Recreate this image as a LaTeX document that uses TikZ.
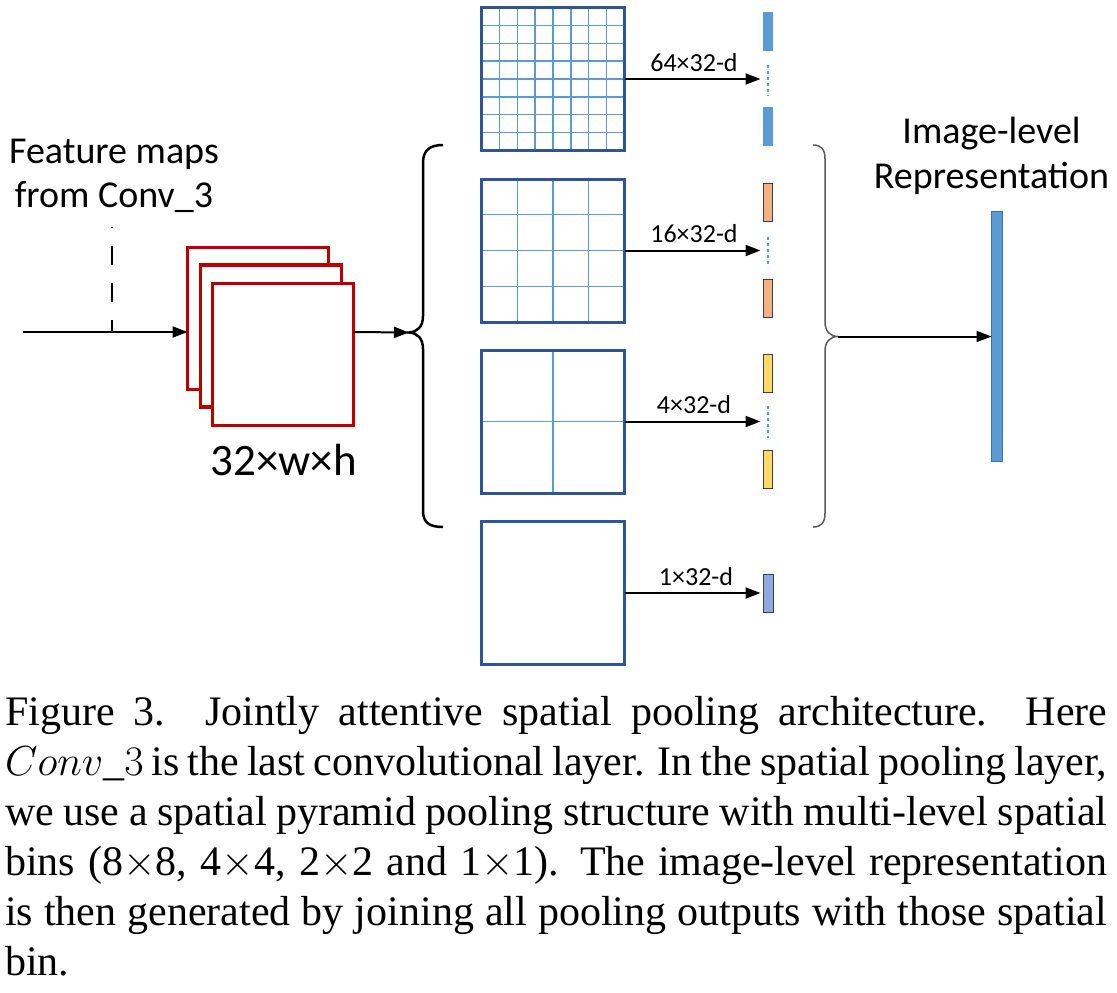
\RequirePackage{fix-cm}
\documentclass[tikz,border=0pt]{standalone}
\usepackage{fontspec}
\setmainfont{Liberation Serif}
\newfontfamily\calib{Carlito}
\usetikzlibrary{arrows.meta,calc}
\definecolor{redbox}{RGB}{192,0,0}
\definecolor{gridborder}{RGB}{47,85,151}
\definecolor{gridline}{RGB}{91,155,213}
\definecolor{barblue}{RGB}{91,155,213}
\definecolor{barorange}{RGB}{244,177,131}
\definecolor{baryellow}{RGB}{255,217,102}
\definecolor{barlav}{RGB}{143,170,220}
\definecolor{bigedge}{RGB}{65,113,156}
\definecolor{lavedge}{RGB}{47,63,110}
\definecolor{bracegray}{RGB}{90,90,90}
\tikzset{
  fmap/.style={draw=redbox, line width=3.2pt, fill=white, minimum width=141pt, minimum height=142pt, inner sep=0pt, outer sep=0pt},
  poolbox/.style={draw=gridborder, line width=3pt, minimum width=143pt, minimum height=143pt, inner sep=0pt, outer sep=0pt},
  gridl/.style={draw=gridline, line width=1.3pt},
  flow/.style={draw=black, line width=2pt, -{Triangle[length=15pt,width=11pt]}},
  barbox/.style={minimum width=9pt, minimum height=38pt, inner sep=0pt, outer sep=0pt},
  bluebar/.style={barbox, fill=barblue, draw=barblue, line width=1pt},
  orangebar/.style={barbox, fill=barorange, draw=black!75, line width=1pt},
  yellowbar/.style={barbox, fill=baryellow, draw=black!75, line width=1pt},
  dotline/.style={draw=barblue, line width=2pt, dash pattern=on 3pt off 3pt},
  lbl/.style={font=\calib\fontsize{26}{30}\selectfont, inner sep=0pt},
  toplbl/.style={font=\calib\fontsize{38}{44}\selectfont, inner sep=0pt, anchor=base},
  bracepath/.style={line width=2.5pt, draw=black},
}
\begin{document}
\begin{tikzpicture}[x=1pt,y=-1pt]
\useasboundingbox (0,0) rectangle (1117,993);

% ---- input and feature maps ----
\node[toplbl] (featlbl) at (114,163) {\parbox[t]{300pt}{\centering Feature maps\\from Conv\_3}};
\coordinate (in) at (23,332);
\coordinate (dtop) at (112,227);

\node[fmap] (f1) at (258,318.5) {};
\node[fmap] (f2) at (271,336) {};
\node[fmap] (f3) at (283,354.5) {};
\node[font=\calib\fontsize{45}{50}\selectfont, inner sep=0pt, anchor=base] (dimlbl) at (283.5,475) {32×w×h};

\draw[line width=2pt, dash pattern=on 19pt off 18pt, dash phase=7pt] (dtop |- in) -- (dtop);
\draw[flow] (in) -- (in -| f1.west);

% ---- left brace ----
\coordinate (lbtip) at (409,332.5);
\draw[bracepath] (443,145) .. controls (430,145) and (423,150) .. (423,163) -- (423,316)
  .. controls (423,327) and (417,332) .. (lbtip)
  .. controls (417,333) and (423,338) .. (423,349) -- (423,511)
  .. controls (423,523) and (430,527) .. (443,527);
\draw[flow] (in -| f3.east) -- (lbtip);

% ---- grids ----
\foreach \i in {1,...,7} {
  \draw[gridl] (481.5+\i*143/8,7.5) -- (481.5+\i*143/8,150.5);
  \draw[gridl] (481.5,7.5+\i*143/8) -- (624.5,7.5+\i*143/8);
}
\foreach \i in {1,...,3} {
  \draw[gridl] (481.5+\i*143/4,179) -- (481.5+\i*143/4,322);
  \draw[gridl] (481.5,179+\i*143/4) -- (624.5,179+\i*143/4);
}
\draw[gridl] (553,350) -- (553,493);
\draw[gridl] (481.5,421.5) -- (624.5,421.5);

\node[poolbox] (g1) at (553,79) {};
\node[poolbox] (g2) at (553,250.5) {};
\node[poolbox] (g3) at (553,421.5) {};
\node[poolbox] (g4) at (553,593) {};

% ---- bars ----
\node[bluebar] (b1a) at (768,31) {};
\node[bluebar] (b1b) at (768,126.5) {};
\node[orangebar] (b2a) at (768,202.5) {};
\node[orangebar] (b2b) at (768,298.5) {};
\node[yellowbar] (b3a) at (768,373) {};
\node[yellowbar] (b3b) at (768,469.5) {};
\node[barbox, minimum width=10pt, fill=barlav, draw=lavedge, line width=1pt] (b4) at (768.5,593) {};

\draw[dotline, shorten <=15pt, shorten >=12pt] (b1a.south) -- (b1b.north);
\draw[dotline, shorten <=15pt, shorten >=13pt] (b2a.south) -- (b2b.north);
\draw[dotline, shorten <=14pt, shorten >=13pt] (b3a.south) -- (b3b.north);

\draw[flow, shorten >=3pt] (g1.east) -- (g1.east -| b1a.west) node[lbl, midway, anchor=base, yshift=8pt] {64×32-d};
\draw[flow, shorten >=3pt] (g2.east) -- (g2.east -| b2a.west) node[lbl, midway, anchor=base, yshift=8pt] {16×32-d};
\draw[flow, shorten >=3pt] (g3.east) -- (g3.east -| b3a.west) node[lbl, midway, anchor=base, yshift=8pt] {4×32-d};
\draw[flow, shorten >=3pt] (g4.east) -- (g4.east -| b4.west) node[lbl, midway, anchor=base, yshift=8pt, xshift=2pt] {1×32-d};

% ---- right brace ----
\coordinate (rbtip) at (838,336.5);
\draw[line width=1.5pt, draw=bracegray] (813,145) .. controls (821,145) and (825,149) .. (825,159) -- (825,322)
  .. controls (825,331) and (830,336.5) .. (rbtip)
  .. controls (830,336.5) and (825,342) .. (825,351) -- (825,513)
  .. controls (825,523) and (821,527) .. (813,527);

\node[barbox, minimum width=11pt, minimum height=250pt, fill=barblue, draw=bigedge, line width=1pt] (big) at (997,336.5) {};
\draw[flow] (rbtip) -- (rbtip -| big.west);
\node[toplbl, font=\calib\fontsize{38}{45}\selectfont] (replbl) at (991.5,143) {\parbox[t]{400pt}{\centering Image-level\\Representation}};

% ---- caption ----
\node[anchor=base west, inner sep=0pt] (cap) at (5,725) {\parbox[t]{1102pt}{\fontsize{42}{50}\selectfont\hyphenpenalty=10000
Figure 3. Jointly attentive spatial pooling architecture.\ \ Here\linebreak
$Conv\_3$ is the last convolutional layer. In the spatial pooling layer,\linebreak
we use a spatial pyramid pooling structure with multi-level spatial\linebreak
bins (8$\times$8, 4$\times$4, 2$\times$2 and 1$\times$1). The image-level representation\linebreak
is then generated by joining all pooling outputs with those spatial\linebreak
bin.}};
\end{tikzpicture}
\end{document}
